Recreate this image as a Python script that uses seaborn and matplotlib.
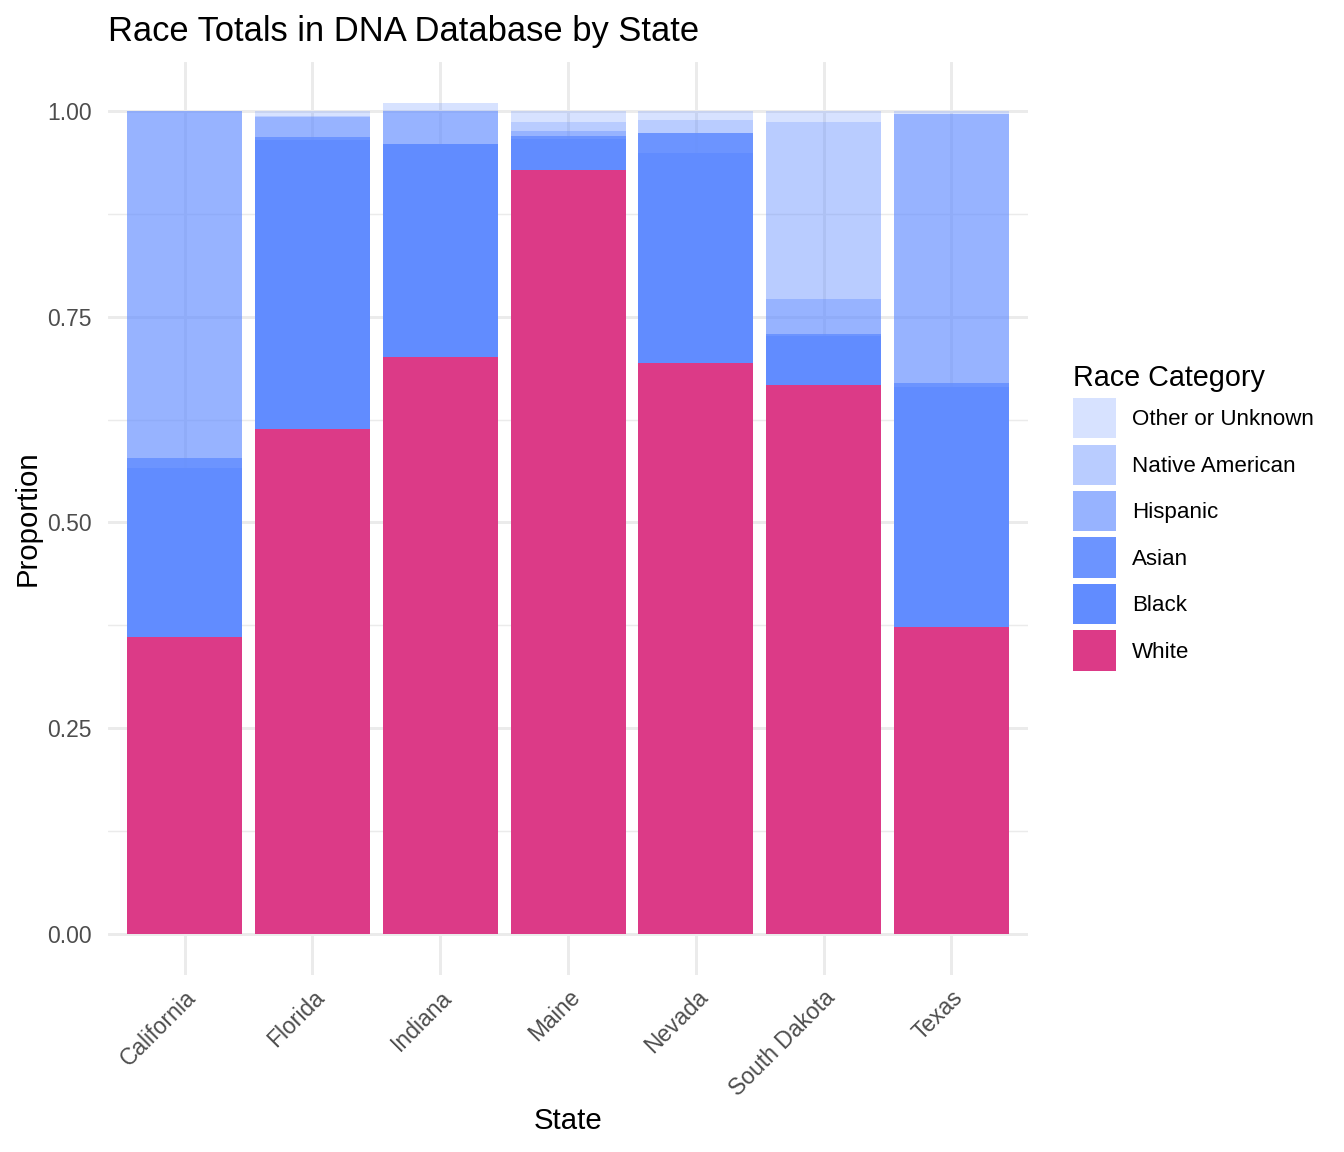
import pandas as pd
import seaborn as sns
import matplotlib.pyplot as plt
from matplotlib.patches import Patch
from matplotlib.colors import to_rgba, to_hex

states = ["California", "Florida", "Indiana", "Maine", "Nevada", "South Dakota", "Texas"]
races = ["Other or Unknown", "Native American", "Hispanic", "Asian", "Black", "White"]

# proportions
white = [0.361, 0.614, 0.701, 0.928, 0.694, 0.667, 0.373]
black = [0.205, 0.351, 0.259, 0.038, 0.255, 0.060, 0.292]
asian = [0.012, 0.003, 0.000, 0.004, 0.024, 0.002, 0.005]
hispanic = [0.422, 0.025, 0.040, 0.006, 0.000, 0.043, 0.326]
native = [0.000, 0.001, 0.000, 0.010, 0.016, 0.215, 0.000]
other = [0.000, 0.006, 0.010, 0.014, 0.011, 0.013, 0.004]

vals = {"Other or Unknown": other, "Native American": native, "Hispanic": hispanic,
        "Asian": asian, "Black": black, "White": white}

rows = []
for r in races:
    for s, v in zip(states, vals[r]):
        rows.append({"State": s, "Race": r, "Proportion": v})
df = pd.DataFrame(rows)

blue = "#618CFF"
fills = {
    "Other or Unknown": to_rgba(blue, 0.25),
    "Native American": to_rgba(blue, 0.44),
    "Hispanic": to_rgba(blue, 0.66),
    "Asian": to_rgba(blue, 0.93),
    "Black": to_rgba(blue, 1.0),
    "White": to_rgba("#DC3A87", 1.0),
}


def flat(c):
    # the colour as seen on white, used to tell the layers apart
    r, g, b, a = c
    return (1 - a + a * r, 1 - a + a * g, 1 - a + a * b)


pal = {k: to_hex(flat(c)) for k, c in fills.items()}
back = {to_hex(flat(c)): c for k, c in fills.items()}

sns.set_theme(style="white")
plt.rcParams["font.family"] = ["Liberation Sans", "DejaVu Sans"]
plt.rcParams["text.color"] = "black"

fig = plt.figure(figsize=(7, 6), dpi=192)
ax = fig.add_axes([108 / 1344, 177 / 1152, 920 / 1344, 913 / 1152])

sns.histplot(data=df, x="State", hue="Race", weights="Proportion",
             multiple="stack", discrete=True, shrink=0.9,
             hue_order=races, palette=pal, alpha=1, linewidth=0,
             legend=False, ax=ax)

# put the transparency back so the grid shows through like in ggplot
for p in ax.patches:
    key = to_hex(p.get_facecolor())
    if key in back:
        p.set_facecolor(back[key])
        p.set_edgecolor("none")

ax.set_axisbelow(True)
ax.set_xlim(-0.6, 6.6)
ax.set_ylim(-0.0498, 1.0595)
ax.set_yticks([0, 0.25, 0.5, 0.75, 1.0])
ax.set_yticklabels(["0.00", "0.25", "0.50", "0.75", "1.00"])
ax.set_yticks([0.125, 0.375, 0.625, 0.875], minor=True)
ax.set_xticks(range(len(states)))
ax.set_xticklabels(states, rotation=45, ha="right", rotation_mode="anchor")
ax.grid(which="major", color="#EBEBEB", linewidth=1.1)
ax.grid(which="minor", axis="y", color="#EBEBEB", linewidth=0.55)
for sp in ax.spines.values():
    sp.set_visible(False)
ax.tick_params(axis="both", which="both", length=0, labelsize=8.6, labelcolor="#4D4D4D")
ax.tick_params(axis="y", pad=6)
ax.tick_params(axis="x", pad=4)

ax.set_xlabel("State", fontsize=11, color="black")
ax.set_ylabel("Proportion", fontsize=11, color="black")
ax.xaxis.set_label_coords(0.5, -0.145)
ax.yaxis.set_label_coords(-0.072, 0.5)

fig.text(108 / 1344, 1 - 31 / 1152, "Race Totals in DNA Database by State",
         fontsize=12.95, ha="left", va="center", color="black")

handles = [Patch(facecolor=fills[r], edgecolor="none", label=r) for r in races]
fig.legend(handles=handles, title="Race Category", loc="upper left",
           bbox_to_anchor=(1073 / 1344, 1 - 364 / 1152), frameon=False,
           fontsize=8.4, title_fontsize=10.8, borderpad=0, borderaxespad=0,
           handlelength=1.92, handleheight=2.4, handletextpad=0.72,
           labelspacing=0.27, alignment="left")

fig.savefig("out.png", dpi=192, facecolor="white")
